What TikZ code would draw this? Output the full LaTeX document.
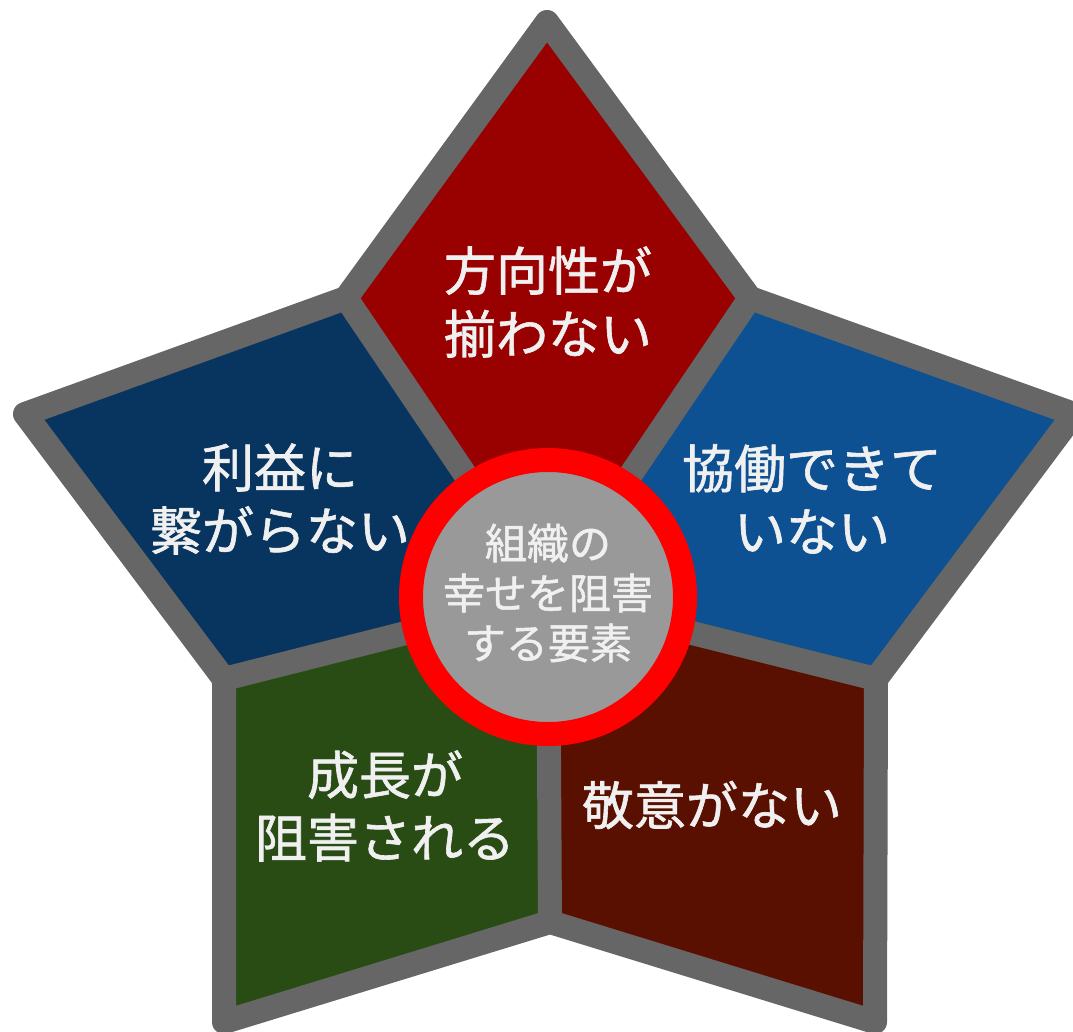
\documentclass[tikz,border=0pt]{standalone}
\usepackage{fontspec}
\newfontfamily\jp[FakeBold=1.2]{Noto Sans CJK JP}
\definecolor{bordc}{HTML}{666666}
\definecolor{topc}{HTML}{990000}
\definecolor{rightc}{HTML}{0D5193}
\definecolor{leftc}{HTML}{08355F}
\definecolor{greenc}{HTML}{294C14}
\definecolor{brownc}{HTML}{5A1000}
\definecolor{hubc}{HTML}{999999}
\definecolor{ringc}{HTML}{FF0000}
\definecolor{txtc}{HTML}{F0F0F0}
\begin{document}
\begin{tikzpicture}[x=1pt,y=-1pt,
  lbl/.style={text=txtc, align=center, inner sep=0pt, font=\jp\fontsize{52}{63}\selectfont},
  hublbl/.style={text=txtc, align=center, inner sep=0pt, font=\jp\fontsize{42}{50}\selectfont},
  border/.style={draw=bordc, line width=24pt}]
\useasboundingbox (0,0) rectangle (1073,1032);
\coordinate (C) at (548,597);
\coordinate (T) at (547,22);
\coordinate (A) at (750,298);
\coordinate (R) at (1074,414);
\coordinate (B) at (876,679);
\coordinate (BR) at (875,1022);
\coordinate (D) at (550,922);
\coordinate (BL) at (224,1022);
\coordinate (E) at (224,679);
\coordinate (L) at (25,414);
\coordinate (F) at (346,298);
% regions
\fill[topc] (C) -- (F) -- (T) -- (A) -- cycle;
\fill[rightc] (C) -- (A) -- (R) -- (B) -- cycle;
\fill[brownc] (C) -- (B) -- (BR) -- (D) -- cycle;
\fill[greenc] (C) -- (D) -- (BL) -- (E) -- cycle;
\fill[leftc] (C) -- (E) -- (L) -- (F) -- cycle;
% borders
\draw[border, line join=round] (T) -- (A) -- (R) -- (B) -- (BR) -- (D) -- (BL) -- (E) -- (L) -- (F) -- cycle;
\draw[border, line cap=round] (C) -- (A) (C) -- (B) (C) -- (D) (C) -- (E) (C) -- (F);
% hub
\node[circle, draw=ringc, fill=hubc, line width=24pt, minimum size=274pt, inner sep=0pt] (hub) at (C) {};
\node[hublbl] (hubtxt) at (548,593) {組織の\\幸せを阻害\\する要素};
% labels
\node[lbl] (ttop) at (548,302) {方向性が\\揃わない};
\node[lbl] (tright) at (812,499) {協働できて\\いない};
\node[lbl] (tleft) at (280,499) {利益に\\繋がらない};
\node[lbl] (tgreen) at (385,806) {成長が\\阻害される};
\node[lbl] (tbrown) at (712,805) {敬意がない};
\end{tikzpicture}
\end{document}
